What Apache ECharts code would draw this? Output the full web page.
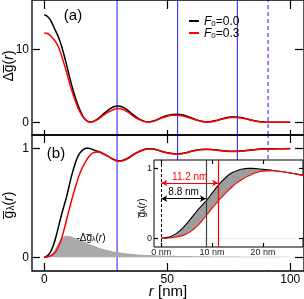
<!DOCTYPE html>
<html><head><meta charset="utf-8">
<script src="https://cdn.jsdelivr.net/npm/echarts@6/dist/echarts.min.js"></script>
<style>html,body{margin:0;padding:0;background:#fff}#c{width:304px;height:299px}</style>
</head><body><div id="c"></div>
<script>
// ---- data ----
const r = [0,1,2,3,4,5,6,7,8,9,10,11,12,13,14,15,16,17,18,19,20,22,24,26,28,30,32,34,36,38,40,42,44,46,48,50,52,54,56,58,60,62,64,66,68,70,72,74,76,78,80,82,84,86,88,90,95,100];
// panel (a): delta g(r)
const dgF00 = [14.8,14.65,14.3,13.75,13.0,12.3,11.5,10.5,9.3,8.0,6.6,5.3,4.1,3.0,2.1,1.3,0.7,0.3,0.1,0.05,0.15,
  0.55,1.15,1.7,2.12,2.25,2.08,1.65,1.1,0.6,0.25,
  0.07,0.15,0.4,0.72,0.95,1.1,1.13,1.05,0.85,0.6,
  0.35,0.15,0.06,0.12,0.28,0.47,0.63,0.73,0.75,0.68,
  0.52,0.34,0.18,0.08,0.03,
  0.02,0.02];
const dgF03 = [12.3,12.25,12.05,11.75,11.35,10.85,10.15,9.2,8.1,6.95,5.75,4.6,3.55,2.6,1.8,1.15,0.65,0.3,0.1,0.05,0.12,
  0.45,0.95,1.4,1.75,1.9,1.78,1.4,0.92,0.48,0.18,
  0.05,0.12,0.35,0.63,0.85,0.98,1.0,0.93,0.75,0.52,
  0.3,0.12,0.05,0.1,0.24,0.42,0.57,0.66,0.68,0.62,
  0.48,0.31,0.16,0.07,0.03,
  0.02,0.02];
// panel (b): g_lambda(r)
const gF00 = [0,0.01,0.03,0.07,0.13,0.21,0.3,0.39,0.47,0.55,0.645,0.74,0.82,0.89,0.94,0.97,0.99,1.0,1.0,0.995,0.985,
  0.97,0.95,0.925,0.9,0.885,0.89,0.91,0.94,0.965,0.985,
  0.995,0.995,0.985,0.97,0.96,0.952,0.95,0.953,0.962,0.975,
  0.985,0.99,0.992,0.99,0.985,0.98,0.975,0.972,0.972,0.975,
  0.98,0.985,0.99,0.993,0.995,
  0.996,0.997];
const gF03 = [0,0.002,0.008,0.018,0.035,0.065,0.11,0.17,0.25,0.34,0.43,0.515,0.595,0.67,0.74,0.8,0.845,0.885,0.92,0.945,0.96,
  0.965,0.95,0.925,0.9,0.882,0.886,0.905,0.935,0.962,0.982,
  0.993,0.993,0.983,0.968,0.957,0.95,0.948,0.951,0.96,0.973,
  0.983,0.988,0.99,0.988,0.983,0.978,0.973,0.97,0.97,0.973,
  0.978,0.983,0.988,0.991,0.993,
  0.995,0.996];
const negDg = [0,0.003,0.012,0.03,0.06,0.1,0.14,0.17,0.19,0.197,0.196,0.19,0.182,0.173,0.164,0.155,0.145,0.135,0.125,0.116,0.107,
  0.09,0.076,0.064,0.054,0.046,0.04,0.034,0.03,0.026,0.023,
  0.02,0.018,0.016,0.015,0.014,0.013,0.012,0.011,0.011,0.01,
  0.0095,0.009,0.0085,0.008,0.0075,0.007,0.0068,0.0065,0.006,0.0058,
  0.0055,0.0052,0.005,0.0048,0.0046,
  0.004,0.003];
const blueSolid = [29.6, 54.2, 78.5];
const blueDashed = [91];
const halfF00 = 8.8, halfF03 = 11.2;
const arrowLevelF03 = 0.79, arrowLevelF00 = 0.566;
// ticks
const xTicks = [0, 50, 100];
const yTicksA = [0, 10];
const yTicksB = [0, 1];
const insetXTicks = [0, 10, 20];
const insetYTicks = [0, 1];

// ---- chart ----
const FONT = '"Liberation Sans", Arial, Helvetica, sans-serif';
const BLUE = '#3030ff';
const pair = ys => r.map((x, i) => [x, ys[i]]);

const X = {min: -5, max: 105.6};
const YA = {min: -1.73, max: 16.82};
const YB = {min: -0.126, max: 1.122};
const XI = {min: -1.44, max: 27.9};
const YI = {min: -0.124, max: 1.119};

function axis(gridIndex, position, rng, ticks, label, tickLen, z) {
  return {
    type: 'value', gridIndex, position, min: rng.min, max: rng.max, z,
    axisLine: {show: false, onZero: false}, splitLine: {show: false},
    axisTick: {show: true, inside: true, length: tickLen, customValues: ticks, lineStyle: {color: '#000', width: 1.2}},
    axisLabel: label ? Object.assign({show: true, customValues: ticks, color: '#000', fontFamily: FONT}, label) : {show: false}
  };
}

const xAxis = [
  axis(0, 'bottom', X, xTicks, null, 5, 5),
  axis(0, 'top', X, xTicks, null, 9, 5),
  axis(1, 'bottom', X, xTicks, {fontSize: 12, margin: 3}, 8, 5),
  axis(1, 'top', X, xTicks, null, 8, 5),
  axis(2, 'bottom', XI, insetXTicks, {fontSize: 9, margin: 1, color: '#222', formatter: v => v + ' nm'}, 4, 16),
  axis(2, 'top', XI, insetXTicks, null, 4, 16)
];
const yAxis = [
  axis(0, 'left', YA, yTicksA, {fontSize: 12, margin: 3}, 8, 5),
  axis(0, 'right', YA, yTicksA, null, 9, 5),
  axis(1, 'left', YB, yTicksB, {fontSize: 12, margin: 3}, 8, 5),
  axis(1, 'right', YB, yTicksB, null, 9, 5),
  axis(2, 'left', YI, insetYTicks, {fontSize: 9, margin: 2, color: '#222'}, 4, 16),
  axis(2, 'right', YI, insetYTicks, null, 4, 16)
];

// vertical blue reference lines, spanning each main panel
function vlines(xi, yi, rng) {
  const out = [];
  blueSolid.forEach(v => out.push({type: 'line', xAxisIndex: xi, yAxisIndex: yi, z: 1, symbol: 'none', silent: true,
    data: [[v, rng.min], [v, rng.max]], lineStyle: {color: BLUE, width: 1.1, type: 'solid'}, emphasis: {disabled: true}}));
  blueDashed.forEach(v => out.push({type: 'line', xAxisIndex: xi, yAxisIndex: yi, z: 1, symbol: 'none', silent: true,
    data: [[v, rng.min], [v, rng.max]], lineStyle: {color: BLUE, width: 1.1, type: [4, 3]}, emphasis: {disabled: true}}));
  return out;
}

function line(name, data, color, xi, yi, z, width, extra) {
  return Object.assign({
    type: 'line', name, data: pair(data), xAxisIndex: xi, yAxisIndex: yi, z,
    symbol: 'none', showSymbol: false, smooth: 0.3,
    lineStyle: {color, width}, itemStyle: {color}, emphasis: {disabled: true}
  }, extra || {});
}

const series = [
  ...vlines(0, 0, YA),
  line('F0=0.0', dgF00, '#000', 0, 0, 3, 1.5),
  line('F0=0.3', dgF03, '#ff0000', 0, 0, 3, 1.5),
  ...vlines(2, 2, YB),
  line('negdg', negDg, '#aaaaaa', 2, 2, 3, 0, {areaStyle: {color: '#aaaaaa', opacity: 1}}),
  line('F0=0.0', gF00, '#000', 2, 2, 3, 1.5),
  line('F0=0.3', gF03, '#ff0000', 2, 2, 3, 1.5),
  // inset: gray under black, white under red -> gray band between
  line('bandTop', gF00, '#9c9c9c', 4, 4, 11, 0, {lineStyle: {width: 0, opacity: 0}, areaStyle: {color: '#9c9c9c', opacity: 1}}),
  line('bandBot', gF03, '#ffffff', 4, 4, 12, 0, {lineStyle: {width: 0, opacity: 0}, areaStyle: {color: '#ffffff', opacity: 1}}),
  line('F0=0.0', gF00, '#000', 4, 4, 13, 1.1, {
    markLine: {
      silent: true, z: 15, symbol: ['none', 'none'], emphasis: {disabled: true},
      data: [
        {xAxis: halfF00, lineStyle: {color: '#444', width: 1.2, type: 'solid'}, label: {show: false}},
        {xAxis: 0, lineStyle: {color: '#000', width: 1, type: [3, 2]}, label: {show: false}},
        [{coord: [0, arrowLevelF00], symbol: 'arrow'}, {coord: [halfF00, arrowLevelF00], symbol: 'arrow'}]
      ],
      symbolSize: [5, 6],
      lineStyle: {color: '#000', width: 1.1, type: 'solid'},
      label: {show: true, formatter: halfF00 + ' nm', position: 'insideMiddleTop', distance: 1, color: '#000', fontSize: 10, fontFamily: FONT}
    }
  }),
  line('F0=0.3', gF03, '#ff0000', 4, 4, 13, 1.1, {
    markLine: {
      silent: true, z: 15, symbol: ['none', 'none'], emphasis: {disabled: true},
      data: [
        {xAxis: halfF03, lineStyle: {color: '#ff0000', width: 1.2, type: 'solid'}, label: {show: false}},
        [{coord: [0, arrowLevelF03], symbol: 'arrow'}, {coord: [halfF03, arrowLevelF03], symbol: 'arrow'}]
      ],
      symbolSize: [5, 6],
      lineStyle: {color: '#ff0000', width: 1.1, type: 'solid'},
      label: {show: true, formatter: halfF03 + ' nm', position: 'insideMiddleTop', distance: 1, color: '#ff0000', fontSize: 10, fontFamily: FONT}
    }
  })
];

const T = (x, y, text, size, rich, rot) => ({
  type: 'text', x, y, rotation: rot || 0, silent: true, z: 20,
  style: {text, fontSize: size, fontFamily: FONT, fill: '#000', align: 'center', verticalAlign: 'middle', rich}
});
const richMain = s => ({
  n: {fontSize: s, fontFamily: FONT, fill: '#000', verticalAlign: 'bottom', lineHeight: s + 2},
  i: {fontSize: s, fontFamily: FONT, fontStyle: 'italic', fill: '#000', verticalAlign: 'bottom', lineHeight: s + 2},
  s: {fontSize: Math.round(s * 0.68), fontFamily: FONT, fill: '#000', verticalAlign: 'bottom', lineHeight: Math.round(s * 0.4)}
});

const option = {
  animation: false,
  backgroundColor: '#fff',
  grid: [
    {left: 32, top: -1, width: 273, height: 136, show: true, borderColor: '#000', borderWidth: 1.3, backgroundColor: 'transparent', z: 4},
    {left: 32, top: 135, width: 273, height: 136, show: true, borderColor: '#000', borderWidth: 1.3, backgroundColor: 'transparent', z: 4},
    {left: 154, top: 160, width: 149, height: 87, show: true, borderColor: '#000', borderWidth: 1, backgroundColor: '#fff', z: 10}
  ],
  xAxis, yAxis, series,
  legend: {
    data: ['F0=0.0', 'F0=0.3'], orient: 'vertical', left: 184, top: 11, itemWidth: 10, itemHeight: 2, itemGap: 0,
    icon: 'rect', selectedMode: false,
    formatter: name => '{i|F}{s|0}{n|=' + name.split('=')[1] + '}',
    textStyle: {fontSize: 12, fontFamily: FONT, color: '#000', rich: {
      i: {fontSize: 12, fontStyle: 'italic', fontFamily: FONT, color: '#000', verticalAlign: 'bottom', lineHeight: 14},
      s: {fontSize: 8, fontFamily: FONT, color: '#000', verticalAlign: 'bottom', lineHeight: 5},
      n: {fontSize: 12, fontFamily: FONT, color: '#000', verticalAlign: 'bottom', lineHeight: 14}
    }}
  },
  graphic: [
    {type: 'rect', shape: {x: 154, y: 160, width: 151, height: 110}, style: {fill: '#fff'}, z: 2, silent: true},
    T(73, 16, '(a)', 15),
    T(56, 154, '(b)', 15),
    T(8, 66, '{n|Δg\u0305(}{i|r}{n|)}', 14, richMain(14), Math.PI / 2),
    T(8, 205, '{n|g\u0305}{s|λ}{n|(}{i|r}{n|)}', 14, richMain(14), Math.PI / 2),
    T(141, 208, '{n|g\u0305}{s|λ}{n|(}{i|r}{n|)}', 10, richMain(10), Math.PI / 2),
    T(91, 237, '{n|-Δg\u0305}{s|λ}{n|(}{i|r}{n|)}', 10, richMain(10)),
    T(168, 291, '{i|r}{n| [nm]}', 15, richMain(15))
  ]
};

const chart = echarts.init(document.getElementById('c'), null, {renderer: 'canvas'});
chart.setOption(option);
</script>
</body></html>
